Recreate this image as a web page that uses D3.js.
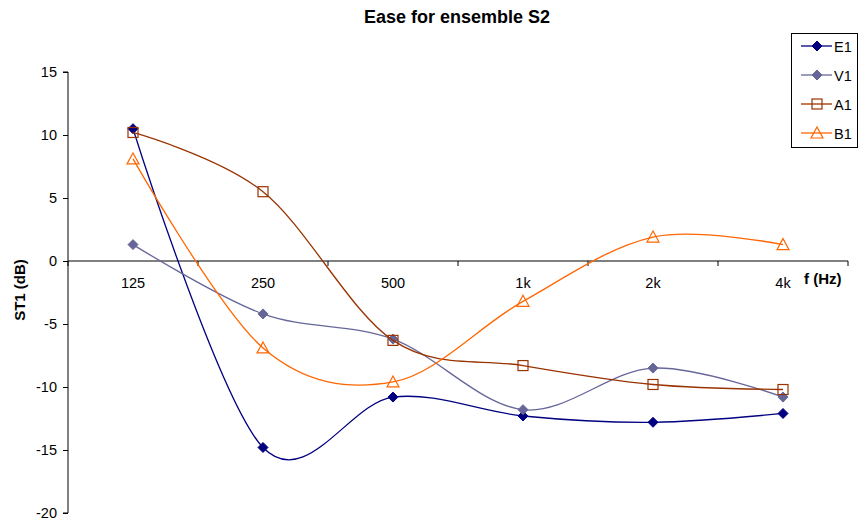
<!DOCTYPE html>
<html><head><meta charset="utf-8">
<script src="https://cdn.jsdelivr.net/npm/d3@7"></script>
<style>body{margin:0;background:#fff;} text{font-family:Arial,"Liberation Sans",sans-serif;}</style>
</head><body>
<svg id="c" width="861" height="523"></svg>
<script>
const categories = ["125","250","500","1k","2k","4k"];
const E1 = [10.5,-14.8,-10.8,-12.3,-12.8,-12.1];
const V1 = [1.3,-4.2,-6.2,-11.8,-8.5,-10.8];
const A1 = [10.2,5.5,-6.3,-8.3,-9.8,-10.2];
const B1 = [8.1,-6.9,-9.6,-3.2,1.9,1.3];
const yTicks = [15,10,5,0,-5,-10,-15,-20];
const seriesNames = ["E1","V1","A1","B1"];

(function(){
const FF = "Arial,'Liberation Sans',sans-serif";
const series = [
  {name:"E1", values:E1, color:"#000080", marker:"diamond", fill:"#000080"},
  {name:"V1", values:V1, color:"#666699", marker:"diamond", fill:"#666699"},
  {name:"A1", values:A1, color:"#993300", marker:"square", fill:"none"},
  {name:"B1", values:B1, color:"#FF6600", marker:"triangle", fill:"none"}
];

const svg = d3.select("#c");
const pl=68, pr=848, pt=72, pb=513;
const x = d3.scaleBand().domain(categories).range([pl,pr]);
const y = d3.scaleLinear().domain([-20,15]).range([pb,pt]);

svg.append("text").attr("x",457).attr("y",23).attr("text-anchor","middle")
  .style("font-size","18px").style("font-weight","bold").text("Ease for ensemble S2");

const ya = svg.append("g").attr("transform",`translate(${pl},0)`)
  .call(d3.axisLeft(y).tickValues(yTicks).tickSize(5).tickPadding(6).tickFormat(d=>String(d)));
ya.selectAll("text").style("font-size","14.5px").style("font-family",FF).attr("fill","#000");
ya.selectAll("line,path").attr("stroke","#000");
ya.select(".domain").attr("d",`M-5,${pt}H0V${pb}H-5`);

const xa = svg.append("g").attr("transform",`translate(0,${y(0)})`)
  .call(d3.axisBottom(x).tickSize(0).tickPadding(17));
xa.selectAll("text").style("font-size","14.5px").style("font-family",FF).attr("fill","#000");
xa.select(".domain").attr("d",`M${pl},0H${pr}`).attr("stroke","#000");
const bounds = categories.map(c=>x(c)+x.bandwidth()).concat([pl]);
xa.selectAll(".bt").data(bounds).enter().append("line").attr("class","bt")
  .attr("x1",d=>d).attr("x2",d=>d).attr("y1",0).attr("y2",5).attr("stroke","#000");

svg.append("text").attr("x",804).attr("y",284).style("font-size","15px").style("font-weight","bold").text("f (Hz)");
svg.append("text").attr("transform","translate(25,290) rotate(-90)").attr("text-anchor","middle")
  .style("font-size","15px").style("font-weight","bold").text("ST1 (dB)");

const line = d3.line().x((d,i)=>x(categories[i])+x.bandwidth()/2).y(d=>y(d)).curve(d3.curveCardinal.tension(0));

function drawMarker(g, s, cx, cy){
  if(s.marker==="diamond"){
    g.append("path").attr("d",`M${cx},${cy-5}L${cx+5},${cy}L${cx},${cy+5}L${cx-5},${cy}Z`).attr("fill",s.fill).attr("stroke",s.color);
  } else if(s.marker==="square"){
    g.append("rect").attr("x",cx-5).attr("y",cy-5).attr("width",10).attr("height",10).attr("fill","none").attr("stroke",s.color).attr("stroke-width",1.2);
  } else {
    g.append("path").attr("d",`M${cx},${cy-6}L${cx+6},${cy+5}L${cx-6},${cy+5}Z`).attr("fill","none").attr("stroke",s.color).attr("stroke-width",1.2);
  }
}

series.forEach(s=>{
  const g = svg.append("g");
  g.append("path").attr("d",line(s.values)).attr("fill","none").attr("stroke",s.color).attr("stroke-width",1.3);
  s.values.forEach((v,i)=>drawMarker(g,s,x(categories[i])+x.bandwidth()/2,y(v)));
});

const lg = svg.append("g");
lg.append("rect").attr("x",791.5).attr("y",33.5).attr("width",66).attr("height",114).attr("fill","#fff").attr("stroke","#000");
series.forEach((s,i)=>{
  const ly = 46 + i*29;
  lg.append("line").attr("x1",801).attr("x2",832).attr("y1",ly).attr("y2",ly).attr("stroke",s.color).attr("stroke-width",1.3);
  drawMarker(lg,s,817,ly);
  lg.append("text").attr("x",834).attr("y",ly+5.5).style("font-size","14.5px").text(seriesNames[i]);
});
})();
</script>
</body></html>
